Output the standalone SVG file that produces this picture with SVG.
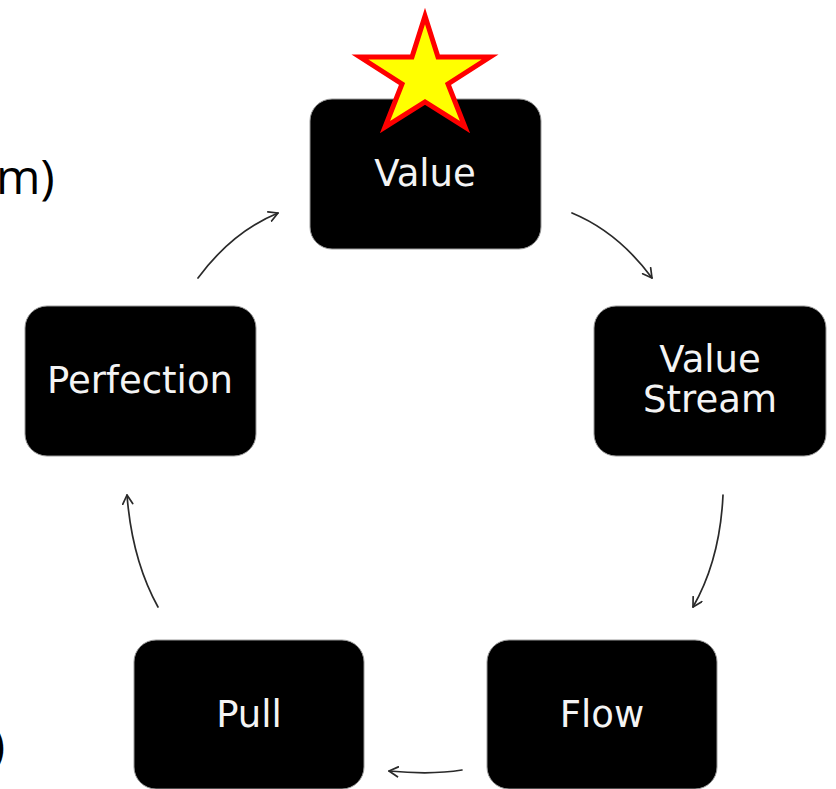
<svg xmlns="http://www.w3.org/2000/svg" width="836" height="789" viewBox="0 0 836 789">
  <defs>
    <marker id="arrowhead" viewBox="0 0 12 12" refX="10" refY="6" markerWidth="12" markerHeight="12" markerUnits="userSpaceOnUse" orient="auto">
      <path d="M1,1 L10,6 L1,11" fill="none" stroke="#2a2a2a" stroke-width="1.7" stroke-linecap="round" stroke-linejoin="round"/>
    </marker>
  </defs>
  <style>
    .box { fill: #000; stroke: #9a9a9a; stroke-width: 1; }
    .label { fill: #f4f4f4; font-family: "DejaVu Sans", Verdana, sans-serif; font-size: 37px; text-anchor: middle; }
    .side { fill: #000; font-family: "Open Sans", "Liberation Sans", sans-serif; font-size: 48px; }
    .conn { fill: none; stroke: #2a2a2a; stroke-width: 1.7; stroke-linecap: round; marker-end: url(#arrowhead); }
  </style>
  <rect width="836" height="789" fill="#fff"/>

  <!-- text fragments running in from the left edge -->
  <text class="side" x="-4" y="194">m)</text>
  <text class="side" x="-9" y="762" font-size="72">)</text>

  <g id="connectors">
    <path class="conn" d="M572,213 Q618,232 652,278"/>
    <path class="conn" d="M723,495 Q720,560 693,607"/>
    <path class="conn" d="M462,770 Q432,775 389,771"/>
    <path class="conn" d="M158,607 Q132,560 127,495"/>
    <path class="conn" d="M198,278 Q232,232 278,213"/>
  </g>

  <g id="node-value">
    <rect class="box" x="310" y="99" width="231" height="150" rx="22"/>
    <text class="label" x="425" y="186">Value</text>
  </g>
  <g id="node-value-stream">
    <rect class="box" x="594" y="306" width="232" height="150" rx="22"/>
    <text class="label" x="710" y="372">Value</text>
    <text class="label" x="710" y="412">Stream</text>
  </g>
  <g id="node-flow">
    <rect class="box" x="487" y="640" width="230" height="149" rx="22"/>
    <text class="label" x="602" y="727">Flow</text>
  </g>
  <g id="node-pull">
    <rect class="box" x="134" y="640" width="230" height="149" rx="22"/>
    <text class="label" x="249" y="727">Pull</text>
  </g>
  <g id="node-perfection">
    <rect class="box" x="25" y="306" width="231" height="150" rx="22"/>
    <text class="label" x="140" y="393">Perfection</text>
  </g>

  <g id="star">
    <polygon points="425,16 438,57 490,57 448,84 465,127 425,102 385,127 402,84 360,57 412,57" fill="#ffff00" stroke="#ff0000" stroke-width="5" stroke-linejoin="miter"/>
  </g>
</svg>
